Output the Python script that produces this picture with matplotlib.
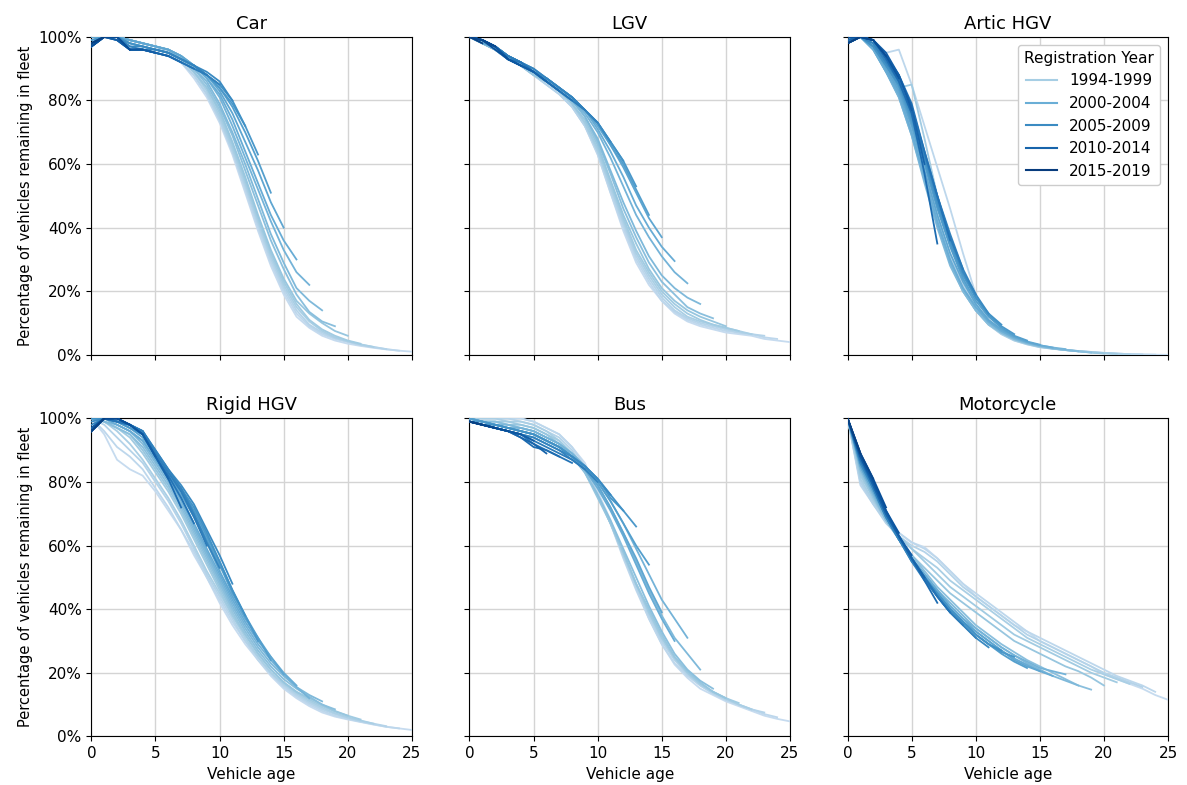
import numpy as np
import matplotlib.pyplot as plt
from matplotlib.ticker import PercentFormatter


years = list(range(1994, 2020))
groups = ["1994-1999", "2000-2004", "2005-2009", "2010-2014", "2015-2019"]
titles = ["Car", "LGV", "Artic HGV", "Rigid HGV", "Bus", "Motorcycle"]

# % remaining by vehicle age (0, 1, 2, ...), one list per registration year
car = [
    [100, 100, 100, 99, 98, 97, 95, 92, 87, 81, 73, 63, 51, 39, 28, 19, 12, 8.5, 6, 4.5, 3.5, 2.8, 2.2, 1.7, 1.3, 1.0],
    [100, 100, 100, 99, 98, 97, 95, 92, 88, 82, 74, 64, 52, 40, 29, 20, 13, 9, 6.5, 5, 4, 3, 2.4, 1.8, 1.3],
    [100, 100, 100, 99, 98, 97, 95, 92, 88, 82, 74, 64, 53, 41, 30, 21, 14, 9.5, 7, 5.3, 4.2, 3.2, 2.5, 1.8],
    [100, 100, 100, 99, 98, 97, 96, 93, 89, 83, 75, 65, 54, 42, 31, 22, 15, 10.5, 7.5, 5.5, 4.3, 3.3, 2.5],
    [100, 100, 100, 99, 98, 97, 96, 93, 89, 84, 76, 66, 55, 43, 32, 23, 16, 11, 8, 6, 4.5, 3.5],
    [100, 100, 100, 99, 98, 97, 96, 93, 89, 84, 77, 67, 56, 44, 33, 24, 17, 13, 10, 7.5, 6],
    [100, 100, 100, 99, 98, 97, 96, 93, 90, 85, 78, 69, 58, 47, 36, 27, 19, 13.5, 10.5, 9],
    [100, 100, 100, 99, 98, 97, 96, 94, 90, 86, 79, 70, 60, 49, 38, 29, 21, 17, 14],
    [100, 100, 100, 99, 98, 97, 96, 94, 91, 87, 81, 72, 62, 52, 42, 33, 26, 22],
    [100, 100, 100, 99, 98, 97, 96, 94, 91, 87, 82, 74, 64, 54, 44, 36, 30],
    [100, 100, 100, 99, 98, 97, 96, 94, 91, 88, 83, 76, 67, 58, 48, 40],
    [99, 100, 100, 98, 97, 96, 95, 93, 91, 88, 84, 78, 70, 61, 51],
    [99, 100, 100, 98, 97, 96, 95, 93, 91, 88, 84, 79, 72, 63],
    [98, 100, 100, 98, 97, 96, 95, 93, 91, 88, 85, 80, 72],
    [98, 100, 100, 97, 97, 96, 95, 93, 91, 89, 86, 80],
    [97, 100, 100, 97, 96, 96, 95, 93, 91, 88, 85],
    [98, 100, 100, 96, 96, 95, 94, 92, 90, 88],
    [98, 100, 100, 96, 96, 95, 94, 92, 90],
    [97, 100, 99, 96, 96, 95, 94, 92],
    [97, 100, 99, 96, 96, 95, 94],
    [97, 100, 99, 96, 96, 95],
    [97, 100, 100, 96, 96],
    [97, 100, 100, 96],
    [98, 100, 100],
    [98, 100],
    [100],
]

lgv = [
    [100, 98, 96, 93, 91, 88, 85, 82, 78, 72, 63, 51, 39, 29, 22, 17, 13, 10.5, 9, 8, 7, 6.5, 6, 5, 4.5, 4],
    [100, 98, 96, 93, 91, 88, 85, 82, 78, 72, 63, 51, 40, 30, 23, 17, 13.5, 11, 9.5, 8.5, 7.5, 7, 6.5, 5.5, 5],
    [100, 98, 96, 93, 91, 88, 85, 82, 78, 72, 64, 52, 41, 31, 24, 18, 14, 11.5, 10, 9, 8, 7, 6.5, 6],
    [100, 98, 96, 93, 91, 88, 86, 83, 79, 73, 64, 53, 42, 32, 25, 19, 15, 12, 10.5, 9.5, 8.5, 7.5, 6.5],
    [100, 98, 96, 93, 91, 88, 86, 83, 79, 73, 65, 54, 43, 33, 26, 20, 16, 13, 11, 9.5, 8.5, 7.5],
    [100, 98, 96, 93, 91, 88, 86, 83, 79, 74, 66, 55, 44, 35, 27, 21, 17, 14, 12, 10.5, 9],
    [100, 98, 96, 93, 91, 89, 86, 83, 80, 75, 67, 57, 46, 37, 29, 23, 19, 15, 13, 11.5],
    [100, 98, 96, 93, 91, 89, 86, 83, 80, 75, 68, 58, 48, 39, 31, 25, 21, 18, 16],
    [100, 98, 97, 94, 91, 89, 86, 83, 80, 76, 70, 62, 53, 44, 37, 31, 26, 22.5],
    [100, 98, 97, 94, 92, 89, 86, 83, 80, 77, 71, 64, 56, 47, 40, 34, 29.5],
    [100, 98, 97, 94, 92, 89, 87, 84, 81, 77, 72, 66, 59, 51, 43, 37],
    [100, 99, 97, 94, 92, 89, 87, 84, 81, 77, 73, 66, 60, 52, 44],
    [100, 99, 97, 94, 92, 89, 87, 84, 81, 77, 73, 67, 61, 53],
    [100, 99, 97, 94, 92, 89, 87, 84, 81, 77, 73, 67, 61],
    [100, 99, 97, 94, 92, 90, 87, 84, 81, 77, 73, 67],
    [100, 99, 97, 94, 92, 90, 87, 84, 81, 77, 73],
    [100, 99, 97, 94, 92, 89, 86, 83, 80, 77],
    [100, 99, 97, 93, 92, 89, 86, 83, 80],
    [100, 99, 97, 93, 91, 89, 86, 83],
    [100, 99, 97, 93, 91, 89, 86],
    [100, 99, 97, 93, 91, 89],
    [100, 99, 97, 93, 91],
    [100, 99, 96, 93],
    [100, 99, 97],
    [100, 98],
    [100],
]

artic = [
    [100, 100, 97, 91, 84, 73, 58, 43, 30, 21, 14, 9.5, 6.5, 4.5, 3.3, 2.4, 1.9, 1.5, 1.2, 0.9, 0.6, 0.4, 0.2, 0.1, 0.05, 0],
    [98, 100, 99, 95, 96, 85, 72, 59, 46, 32, 19, 11, 7, 5, 3.5, 2.6, 2, 1.5, 1.2, 0.9, 0.6, 0.4, 0.2, 0.1, 0.05],
    [100, 100, 97, 90, 85, 74, 59, 44, 31, 22, 15, 10, 7, 5, 3.5, 2.6, 2, 1.6, 1.2, 0.9, 0.6, 0.4, 0.2, 0.1],
    [100, 100, 98, 91, 85, 73, 58, 43, 30, 21, 14, 9.5, 6.5, 4.5, 3.3, 2.4, 1.9, 1.5, 1.1, 0.8, 0.5, 0.3, 0.1],
    [100, 100, 97, 89, 84, 85, 68, 50, 35, 24, 16, 10, 7, 5, 3.5, 2.5, 2, 1.5, 1.2, 0.8, 0.5, 0.3],
    [100, 100, 97, 90, 83, 71, 56, 42, 29, 20, 14, 9.5, 6.8, 4.8, 3.5, 2.6, 2, 1.5, 1.1, 0.7, 0.4],
    [99, 100, 97, 90, 82, 70, 55, 41, 29, 20, 14, 9.5, 7, 5, 3.6, 2.7, 2, 1.5, 1.1, 0.7],
    [99, 100, 96, 89, 81, 69, 54, 40, 28, 20, 14, 10, 7, 5, 3.7, 2.8, 2.1, 1.6, 1.1],
    [99, 100, 96, 89, 81, 69, 55, 41, 29, 21, 15, 10.5, 7.5, 5.3, 3.9, 3, 2.3, 1.8],
    [99, 100, 96, 89, 82, 70, 56, 42, 30, 21, 15, 10.5, 7.5, 5.5, 4, 3, 2.3],
    [99, 100, 97, 90, 83, 72, 58, 44, 32, 23, 16, 11, 8, 5.8, 4.2, 3.2],
    [99, 100, 97, 91, 84, 73, 60, 46, 34, 24, 17, 12, 8.5, 6, 4.5],
    [99, 100, 97, 91, 85, 74, 61, 47, 35, 25, 18, 12.5, 9, 6.5],
    [98, 100, 97, 91, 85, 75, 62, 48, 36, 26, 18, 13, 9.5],
    [98, 100, 98, 92, 86, 76, 63, 49, 37, 26, 19, 13],
    [98, 100, 98, 92, 86, 76, 63, 50, 38, 27, 19],
    [98, 100, 99, 93, 87, 78, 64, 50, 37, 27],
    [98, 100, 99, 94, 88, 79, 64, 50, 36],
    [99, 100, 99, 93, 86, 76, 57, 35],
    [99, 100, 99, 94, 88, 78, 60],
    [100, 100, 99, 95, 88, 77],
    [100, 100, 99, 94, 87],
    [100, 100, 99, 94],
    [98, 100, 99],
    [98, 100],
    [100],
]

rigid = [
    [100, 95, 87, 84, 82, 77, 71, 65, 57, 50, 42, 35, 29, 24, 19, 15, 12, 9.5, 7.5, 6.2, 5.3, 4.5, 3.7, 3, 2.5, 2],
    [100, 96, 91, 88, 84, 78, 72, 65, 58, 50, 43, 36, 30, 24, 19.5, 15.5, 12.5, 10, 8, 6.5, 5.5, 4.6, 3.8, 3, 2.5],
    [100, 98, 94, 90, 86, 80, 74, 67, 59, 51, 44, 37, 30, 25, 20, 16, 13, 10.5, 8.5, 7, 5.8, 4.8, 4, 3.2],
    [100, 99, 96, 92, 87, 81, 75, 68, 60, 52, 45, 38, 31, 25, 20, 16.5, 13.5, 11, 9, 7.3, 6, 5, 4],
    [100, 99, 97, 94, 89, 83, 77, 70, 62, 54, 46, 38, 32, 26, 21, 17, 14, 11.5, 9.5, 7.8, 6.5, 5.3],
    [100, 99, 97, 95, 90, 84, 78, 71, 63, 55, 47, 39, 32, 26, 21, 17, 14, 12, 10, 8, 6.5],
    [100, 99, 97, 95, 91, 85, 79, 72, 64, 56, 48, 40, 33, 27, 22, 18, 15, 12.5, 10, 8.5],
    [100, 99, 98, 96, 92, 86, 80, 73, 65, 57, 49, 41, 34, 28, 23, 19, 15.5, 13, 11],
    [100, 100, 98, 96, 93, 87, 81, 74, 66, 58, 50, 42, 35, 29, 24, 19.5, 15.5, 12],
    [100, 100, 98, 96, 93, 87, 81, 75, 67, 59, 51, 43, 36, 30, 25, 20, 16],
    [100, 100, 99, 97, 94, 88, 82, 76, 69, 61, 52, 44, 37, 31, 25, 19.5],
    [100, 100, 99, 97, 95, 88, 82, 77, 70, 62, 54, 45, 38, 31, 24],
    [100, 100, 99, 97, 95, 89, 83, 78, 71, 63, 55, 46, 38, 30],
    [100, 100, 99, 98, 96, 89, 83, 78, 72, 64, 55, 46, 38],
    [99, 100, 99, 98, 96, 90, 84, 79, 73, 65, 57, 48],
    [98, 100, 99, 98, 96, 90, 84, 78, 70, 61, 53],
    [97, 100, 99, 98, 96, 89, 83, 77, 69, 60],
    [96, 100, 99, 98, 95, 88, 82, 75, 67],
    [96, 100, 100, 98, 95, 88, 81, 72],
    [97, 100, 100, 98, 95, 88, 81],
    [97, 100, 100, 98, 95, 88],
    [96, 100, 100, 98, 95],
    [96, 100, 100, 98],
    [96, 100, 100],
    [96, 100],
    [100],
]

bus = [
    [100, 100, 100, 100, 100, 99, 97, 95, 91, 86, 77, 68, 57, 47, 37, 29, 22.6, 18.4, 15, 13, 11, 9.5, 8, 6.5, 5.5, 4.7],
    [100, 100, 100, 100, 100, 99, 97, 95, 91, 85, 76, 67, 56, 46, 37, 29, 23, 19, 16, 13.5, 11.5, 10, 8.5, 7, 6],
    [100, 100, 100, 100, 99, 98, 96, 94, 90, 84, 76, 67, 57, 47, 38, 30, 24, 19.5, 16, 13.5, 11.5, 10, 8.5, 7.5],
    [100, 100, 100, 99, 99, 98, 96, 93, 89, 84, 76, 67, 57, 48, 39, 31, 24.5, 20, 16.5, 14, 12, 10, 8.5],
    [100, 99, 99, 99, 98, 97, 95, 93, 89, 83, 76, 67, 58, 48, 39, 31, 25, 20, 16.5, 14, 12, 10.5],
    [100, 99, 99, 98, 98, 97, 95, 92, 88, 83, 75, 67, 58, 48, 40, 32, 25, 20.5, 17, 14, 12],
    [100, 99, 99, 98, 97, 96, 94, 92, 88, 83, 76, 68, 59, 50, 41, 33, 26, 21, 17.5, 15],
    [100, 99, 98, 98, 97, 96, 94, 92, 89, 85, 79, 72, 64, 55, 46, 38, 31, 26, 21],
    [100, 99, 98, 97, 97, 96, 94, 92, 89, 85, 80, 74, 67, 59, 51, 43, 37, 31],
    [100, 99, 98, 97, 96, 95, 93, 91, 88, 84, 78, 71, 63, 54, 45, 37, 30],
    [100, 99, 98, 97, 96, 95, 93, 91, 88, 84, 79, 72, 64, 56, 47, 39],
    [100, 99, 98, 97, 96, 95, 93, 91, 88, 85, 80, 74, 67, 60, 54],
    [99, 99, 98, 97, 96, 95, 93, 91, 88, 85, 81, 75, 71, 66],
    [99, 98, 98, 97, 96, 95, 93, 91, 88, 85, 81, 76, 71],
    [99, 98, 97, 96, 95, 94, 92, 90, 88, 85, 81, 76],
    [99, 98, 97, 96, 95, 94, 92, 90, 87, 84, 80],
    [99, 98, 97, 96, 95, 93, 91, 89, 87, 84],
    [99, 98, 97, 96, 95, 92, 90, 88, 86],
    [99, 98, 97, 96, 94, 91, 90, 88],
    [99, 98, 97, 96, 94, 92, 89],
    [99, 98, 97, 96, 95, 93],
    [99, 98, 97, 96, 95],
    [99, 98, 97, 96],
    [99, 98, 97],
    [99, 98],
    [99],
]

moto = [
    [100, 80, 74, 68, 64, 61, 59.5, 56, 52, 48, 44, 41, 38, 35, 33, 30, 28, 26, 24, 22, 19.5, 18, 16.5, 15, 13, 11.5],
    [100, 79, 73, 68, 64, 61, 59, 56, 52, 48, 45, 42, 39, 36, 33, 31, 29, 27, 25, 23, 21, 19, 17.5, 16, 14],
    [100, 80, 73, 67, 63, 60, 58, 55, 51, 47, 44, 41, 38, 35, 32, 30, 28, 26, 24, 22, 20, 18.5, 17, 15.5],
    [100, 81, 74, 68, 63, 59, 56, 53, 49, 46, 43, 40, 37, 34, 31, 29, 27, 25, 23, 21, 19.5, 18, 16.5],
    [100, 82, 75, 68, 63, 59, 55, 51, 47, 44, 41, 38, 35, 32, 30, 28, 26, 24, 22, 20, 18.5, 17],
    [100, 83, 75, 68, 62, 57, 53, 49, 45, 42, 39, 36, 33, 30, 28, 26, 24, 22, 20.5, 18.5, 16],
    [100, 84, 76, 68, 62, 57, 52, 47, 43, 39, 35, 32, 29, 26.5, 24, 22, 20, 18, 16, 14.7],
    [100, 84, 76, 68, 62, 56, 51, 46, 42, 38, 34, 31, 28, 25.5, 23, 21, 19, 17.5, 16],
    [100, 85, 77, 69, 62, 56, 51, 46, 41, 37, 34, 31, 28, 25.5, 23.5, 21.5, 20.5, 19.5],
    [100, 85, 77, 69, 62, 56, 51, 46, 41, 37, 33, 30, 27, 24.5, 22.5, 20.5, 19],
    [100, 85, 77, 69, 62, 56, 50, 45, 40, 36, 33, 30, 27, 24, 22, 20.5],
    [100, 86, 78, 69, 62, 56, 50, 45, 40, 36, 32, 29, 26, 23.5, 21.5],
    [100, 86, 78, 69, 62, 56, 50, 45, 40, 36, 32, 29, 26.5, 25],
    [100, 86, 78, 69, 62, 56, 50, 45, 40, 36, 32, 29, 27],
    [100, 86, 78, 69, 62, 55, 50, 44, 39, 35, 31, 28],
    [100, 87, 78, 69, 62, 55, 49, 44, 39, 35, 31],
    [100, 87, 79, 70, 63, 56, 50, 44, 39, 35],
    [100, 87, 79, 70, 63, 56, 50, 44, 39],
    [100, 88, 79, 70, 63, 56, 49, 42],
    [100, 88, 79, 70, 63, 56, 50],
    [100, 88, 80, 71, 63, 57],
    [100, 88, 80, 71, 64],
    [100, 89, 81, 72],
    [100, 89, 81],
    [100, 89],
    [100],
]

panels = [car, lgv, artic, rigid, bus, moto]

cmap = plt.cm.Blues
group_colors = [cmap(v) for v in [0.35, 0.5, 0.65, 0.8, 0.95]]

fig, axes = plt.subplots(2, 3, figsize=(11.87, 7.85), dpi=100, sharex=True, sharey=True)
fig.subplots_adjust(left=0.077, right=0.984, top=0.953, bottom=0.062, wspace=0.18, hspace=0.2)

for ax, title, data in zip(axes.flat, titles, panels):
    for i, vals in enumerate(data):
        col = cmap(0.25 + 0.72 * i / (len(years) - 1))
        ages = np.arange(len(vals))
        ax.plot(ages, vals, color=col, lw=1.3, zorder=3)
    ax.set_title(title, fontsize=13)
    ax.grid(True, color="#d4d4d4", lw=1)
    ax.set_axisbelow(True)
    ax.set_xlim(0, 25)
    ax.set_ylim(0, 100)
    ax.set_xticks([0, 5, 10, 15, 20, 25])
    ax.set_yticks([0, 20, 40, 60, 80, 100])
    ax.yaxis.set_major_formatter(PercentFormatter(decimals=0))
    ax.tick_params(labelsize=11)

for ax in axes[:, 0]:
    ax.set_ylabel("Percentage of vehicles remaining in fleet", fontsize=10.5)
for ax in axes[1, :]:
    ax.set_xlabel("Vehicle age", fontsize=11)

handles = [plt.Line2D([], [], color=c, lw=1.5) for c in group_colors]
axes[0, 2].legend(handles, groups, title="Registration Year", loc="upper right",
                  fontsize=11, title_fontsize=11, framealpha=1)

fig.savefig("out.png", dpi=100)
